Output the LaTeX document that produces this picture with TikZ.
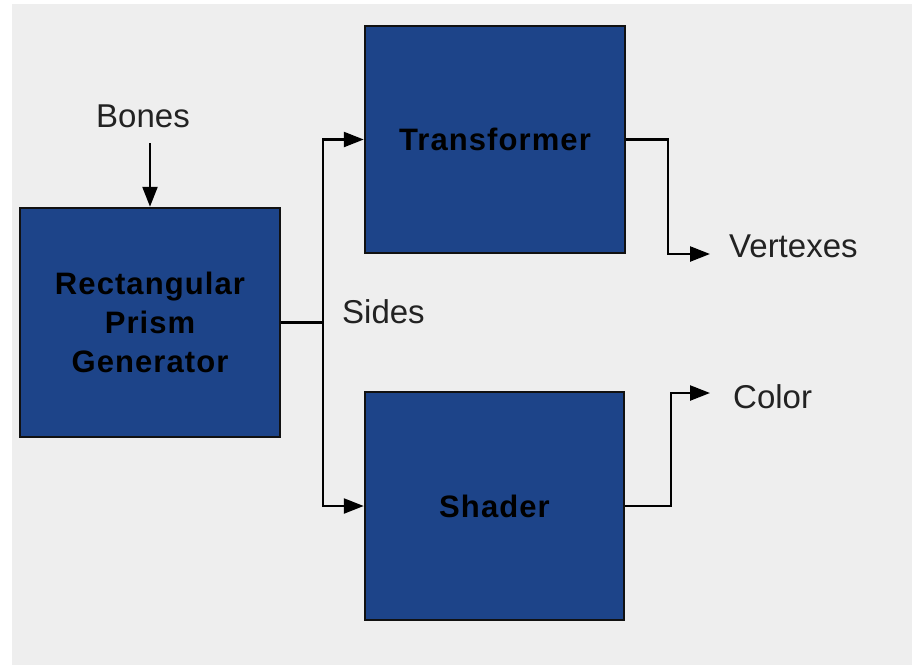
\documentclass[tikz,border=0pt]{standalone}
\usepackage{fontspec}
\setmainfont{Liberation Sans}
\newfontfamily\boxfont[LetterSpace=3.5]{Liberation Sans}
\usetikzlibrary{arrows.meta}
\definecolor{bgray}{HTML}{EEEEEE}
\definecolor{boxblue}{HTML}{1D4489}
\definecolor{boxline}{HTML}{111111}
\definecolor{txt}{HTML}{222222}
\tikzset{
  blockbox/.style={draw=boxline, line width=2.5pt, fill=boxblue, inner sep=0pt,
    align=center, text=black, font=\boxfont\bfseries\fontsize{31}{39}\selectfont},
  lbl/.style={text=txt, inner sep=0pt, font=\fontsize{33}{39}\selectfont},
  conn/.style={line width=2.4pt, draw=black},
  arr/.style={conn, -{Triangle[length=20pt,width=15pt]}},
}
\begin{document}
\begin{tikzpicture}[x=1pt,y=-1pt]
\useasboundingbox (0,0) rectangle (912,665);
\fill[white] (0,0) rectangle (912,665);
\fill[bgray] (12,4) rectangle (912,665);

\node[blockbox, minimum width=260pt, minimum height=229pt] (gen) at (150,322.5)
  {Rectangular\\Prism\\Generator};
\node[blockbox, minimum width=260pt, minimum height=227pt] (trans) at (495,139.5)
  {Transformer};
\node[blockbox, minimum width=259pt, minimum height=228pt] (shader) at (494.5,506)
  {Shader};

\node[lbl, anchor=base] (bones) at (143,127) {Bones};
\node[lbl, anchor=base west] (sides) at (342,323) {Sides};
\node[lbl, anchor=base west] (vert) at (729,257) {Vertexes};
\node[lbl, anchor=base west] (color) at (733,408) {Color};

\coordinate (bonestail) at (150,143);
\coordinate (split) at (323,322.5);
\coordinate (vtip) at (710,254);
\coordinate (ctip) at (710,393);

\draw[arr] (bonestail) -- (gen.north);
\draw[conn] (gen.east) -- (split);
\draw[arr] (split) |- (trans.west);
\draw[arr] (split) |- (shader.west);
\draw[arr] (trans.east) -- ++(42,0) |- (vtip);
\draw[arr] (shader.east) -- ++(46,0) |- (ctip);
\end{tikzpicture}
\end{document}
